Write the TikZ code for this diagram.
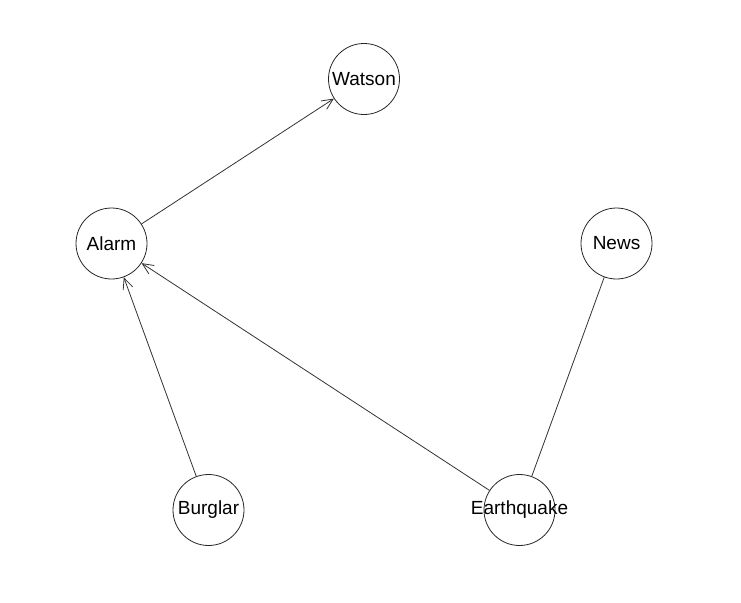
\documentclass[tikz,border=0pt]{standalone}
\usepackage{fontspec}
\setmainfont{Liberation Sans}
\usetikzlibrary{arrows.meta}
\newcommand{\vlabel}[1]{\raisebox{-2pt}{\makebox[0pt]{#1}}}
\begin{document}
\begin{tikzpicture}[x=1pt,y=-1pt,
  vnode/.style={draw=black!85, line width=0.8pt, circle, minimum size=71pt, inner sep=0pt, font=\fontsize{19}{20}\selectfont},
  edge/.style={draw=black!80, line width=0.8pt},
  arr/.style={edge, -{Straight Barb[length=11pt,width=10pt,line width=0.8pt]}}]
\useasboundingbox (0,0) rectangle (741,602);
\node[vnode] (watson) at (364,79) {\vlabel{Watson}};
\node[vnode] (alarm) at (111.5,243.5) {\vlabel{Alarm}};
\node[vnode] (news) at (616.5,243.5) {\vlabel{News}};
\node[vnode] (burglar) at (208.5,510) {\vlabel{Burglar}};
\node[vnode] (earthquake) at (519.5,510) {\vlabel{Earthquake}};
\draw[arr] (alarm) -- (watson);
\draw[arr] (burglar) -- (alarm);
\draw[arr] (earthquake) -- (alarm);
\draw[edge] (earthquake) -- (news);
\end{tikzpicture}
\end{document}
